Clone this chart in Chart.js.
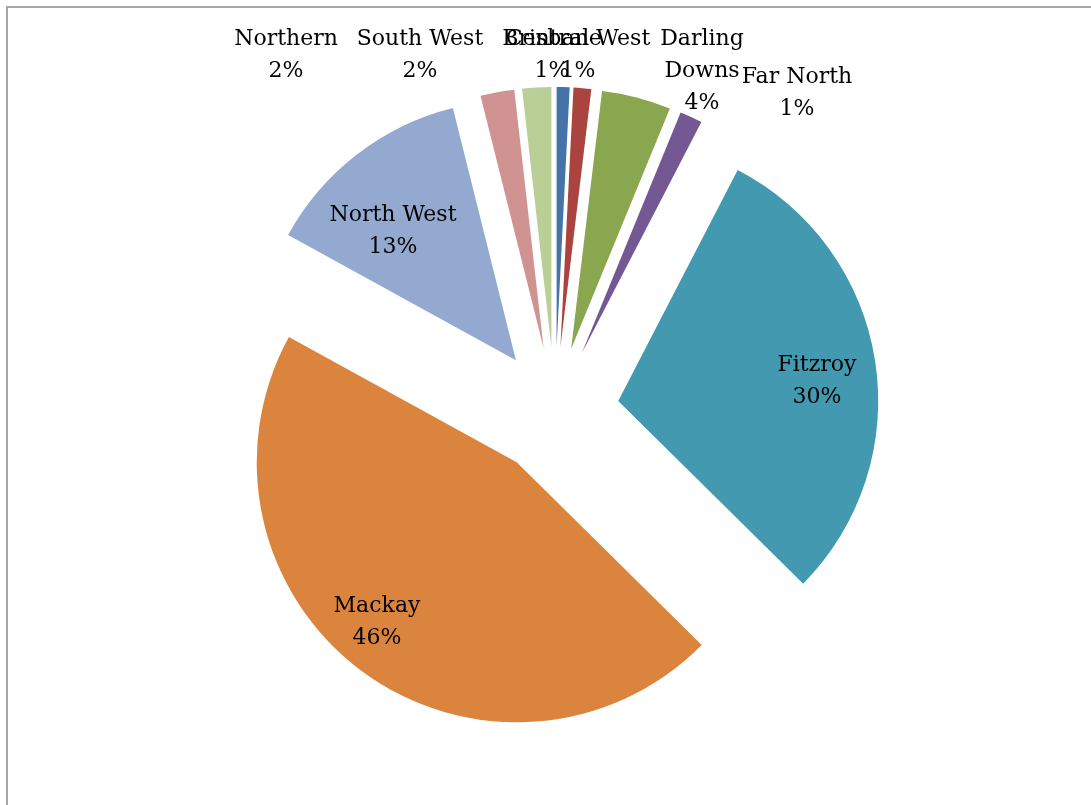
<!DOCTYPE html>
<html lang="en">
  <head>
    <title>Regions</title>
    <meta charset="utf-8" />
    <style>
      html, body { margin: 0; padding: 0; background: #fff; }
      #wrap { position: relative; width: 1091px; height: 805px; overflow: hidden; }
      #frame {
        position: absolute; left: 6px; top: 6px; right: -10px; bottom: -10px;
        border-left: 2px solid #a6a6a6; border-top: 2px solid #a6a6a6;
      }
      #lienzo { position: absolute; left: 0; top: 0; }
    </style>
  </head>
  <body>
    <div id="wrap">
      <div id="frame"></div>
      <canvas id="lienzo"></canvas>
    </div>

    <script src="https://cdn.jsdelivr.net/npm/chart.js"></script>
    <script>
      // data (share of total, %)
      const categories = ["Brisbane", "Central West", "Darling Downs", "Far North", "Fitzroy", "Mackay", "North West", "Northern", "South West"];
      const shares = [0.8, 1.1, 4.3, 1.4, 29.8, 45.6, 13.1, 2.1, 1.8];

      // styles
      const colores = ["#4674a8", "#a9443f", "#8aa64e", "#735893", "#4399b0", "#db843d", "#93a9cf", "#d19392", "#b9cf96"];
      const EXPLODE = 64;
      const FONT = '22px "DejaVu Serif"';
      const LINE = 32;
      // label anchors (first-line baseline) relative to the pie centre
      const labelPos = [
        [-3, -366], [23, -366], [147, -366], [242, -328],
        [262, -40], [-178, 201], [-162, -190], [-269, -366], [-135, -366]
      ];
      const wrapLabel = [false, false, true, false, false, false, false, false, false];

      const explode = {
        id: "explode",
        beforeDatasetDraw(chart, args) {
          const ctx = chart.ctx;
          args.meta.data.forEach((arc) => {
            const mid = (arc.startAngle + arc.endAngle) / 2;
            ctx.save();
            ctx.translate(Math.cos(mid) * EXPLODE, Math.sin(mid) * EXPLODE);
            arc.draw(ctx, chart.chartArea);
            ctx.restore();
          });
          return false;
        },
      };

      const etiquetas = {
        id: "etiquetas",
        afterDatasetsDraw(chart) {
          const ctx = chart.ctx;
          const meta = chart.getDatasetMeta(0);
          const data = chart.data.datasets[0].data;
          const total = data.reduce((a, b) => a + b, 0);
          ctx.save();
          ctx.font = FONT;
          ctx.fillStyle = "#000";
          ctx.textAlign = "center";
          ctx.textBaseline = "alphabetic";
          meta.data.forEach((arc, i) => {
            const cx = arc.x + labelPos[i][0];
            const cy = arc.y + labelPos[i][1];
            const name = chart.data.labels[i];
            const lines = wrapLabel[i] ? name.split(" ") : [name];
            lines.push(Math.round((data[i] / total) * 100) + "%");
            lines.forEach((t, k) => ctx.fillText(t, cx, cy + k * LINE));
          });
          ctx.restore();
        },
      };

      document.addEventListener("DOMContentLoaded", () => {
        const contexto = document.querySelector("#lienzo");
        new Chart(contexto, {
          type: "pie",
          data: {
            labels: categories,
            datasets: [
              {
                data: shares,
                backgroundColor: colores,
                borderWidth: 0,
                offset: 0,
                hoverOffset: 0,
              },
            ],
          },
          options: {
            responsive: true,
            maintainAspectRatio: false,
            animation: false,
            events: [],
            radius: 260,
            layout: { padding: { left: 19, right: 0, top: 17, bottom: 0 } },
            plugins: {
              legend: { display: false },
              tooltip: { enabled: false },
            },
          },
          plugins: [explode, etiquetas],
        });
      });
    </script>
  </body>
</html>
